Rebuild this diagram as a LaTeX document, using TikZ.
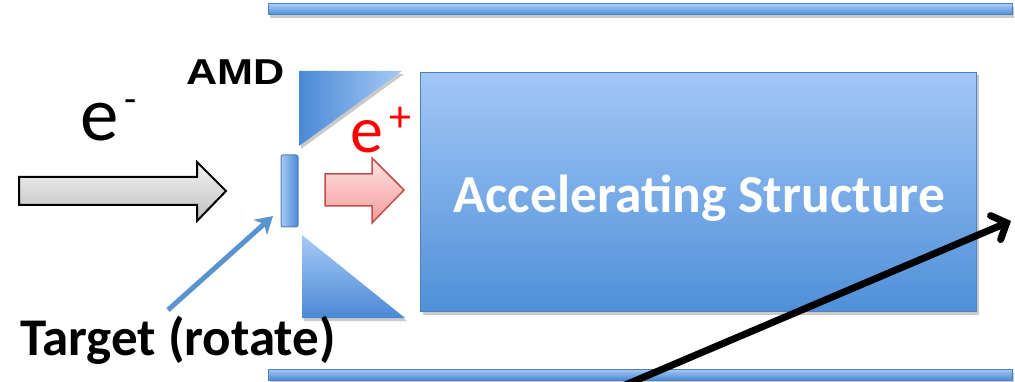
\documentclass[tikz,border=0pt]{standalone}
\usepackage{fontspec}
\setmainfont{Carlito}
\newfontfamily\arialfont{Liberation Sans}
\usetikzlibrary{shadows,arrows.meta}
\definecolor{bluedark}{HTML}{4A89D6}
\definecolor{bluelight}{HTML}{A7CAF6}
\definecolor{blueborder}{HTML}{4F81BD}
\definecolor{boxtop}{HTML}{A3C7F7}
\definecolor{boxbot}{HTML}{4F90D8}
\definecolor{redborder}{HTML}{C0504D}
\definecolor{redtop}{HTML}{FFE4E4}
\definecolor{redbot}{HTML}{F29C9A}
\definecolor{pointer}{HTML}{5A93CF}
\tikzset{
  shad/.style={drop shadow={shadow xshift=2pt,shadow yshift=-3pt,opacity=0.35,fill=black!60}},
  bar/.style={draw=blueborder,line width=1pt,top color=bluelight,bottom color=bluedark,shad},
  tri/.style={draw=none,shad},
  lbl/.style={inner sep=0pt,anchor=base west},
}
\begin{document}
\begin{tikzpicture}[x=1pt,y=-1pt]
\useasboundingbox (0,0) rectangle (1015,382);
\clip (0,0) rectangle (1015,382);
% bars
\path[bar] (268,4) rectangle (1012,15);
\path[bar] (268,369) rectangle (1012,380);
% accelerating structure
\node[draw=blueborder,line width=1pt,top color=boxtop,bottom color=boxbot,shad,
      minimum width=556pt,minimum height=239pt,anchor=north west,inner sep=0pt] (acc) at (420,72) {};
\node[lbl,text=white,font=\fontsize{53.5}{53.5}\bfseries] (acclbl) at (453,213) {Accelerating Structure};
% AMD triangles
\shade[tri,left color=bluedark,right color=bluelight] (299,71) -- (402,71) -- (299,146) -- cycle;
\shade[tri,top color=bluelight,bottom color=bluedark] (302,235) -- (302,318) -- (405,318) -- cycle;
% target
\node[draw=blueborder,line width=1pt,left color=bluelight,right color=bluedark,rounded corners=2pt,
      minimum width=17pt,minimum height=72pt,inner sep=0pt] (target) at (289.5,191) {};
% electron arrow
\shade[draw=black,line width=2pt,top color=black!5,bottom color=black!25]
  (19,177) -- (197,177) -- (197,162) -- (226,191) -- (197,221) -- (197,205) -- (19,205) -- cycle;
% positron arrow
\shade[draw=redborder,line width=1.5pt,top color=redtop,bottom color=redbot]
  (325,174) -- (372,174) -- (372,158) -- (404,190) -- (372,223) -- (372,206) -- (325,206) -- cycle;
% labels
\node[lbl,xscale=1.2,font=\fontsize{36}{36}\arialfont\bfseries] (amd) at (186,85) {AMD};
\node[lbl,font=\fontsize{77}{77}\selectfont] (em) at (80,141) {e\hspace{6pt}\raisebox{28pt}{\fontsize{40}{40}\selectfont -}};
\node[lbl,text=red,font=\fontsize{66}{66}\selectfont] (ep) at (350,153) {e\hspace{6pt}\raisebox{21pt}{\fontsize{44}{44}\selectfont +}};
\node[lbl,font=\fontsize{53}{53}\bfseries] (tlbl) at (20,355) {Target (rotate)};
% pointer to target
\coordinate (pstart) at (168,310);
\coordinate (ptip) at (273,216);
\draw[pointer,line width=5pt,-{Stealth[length=17pt,width=20pt,inset=5pt]}] (pstart) -- (ptip);
% black arrow
\coordinate (bstart) at (590,400);
\coordinate (bend) at (1011,221);
\draw[black,line width=7pt,line cap=round,-{Straight Barb[length=12pt,width=26pt,line cap=round]}] (bstart) -- (bend);
\end{tikzpicture}
\end{document}
